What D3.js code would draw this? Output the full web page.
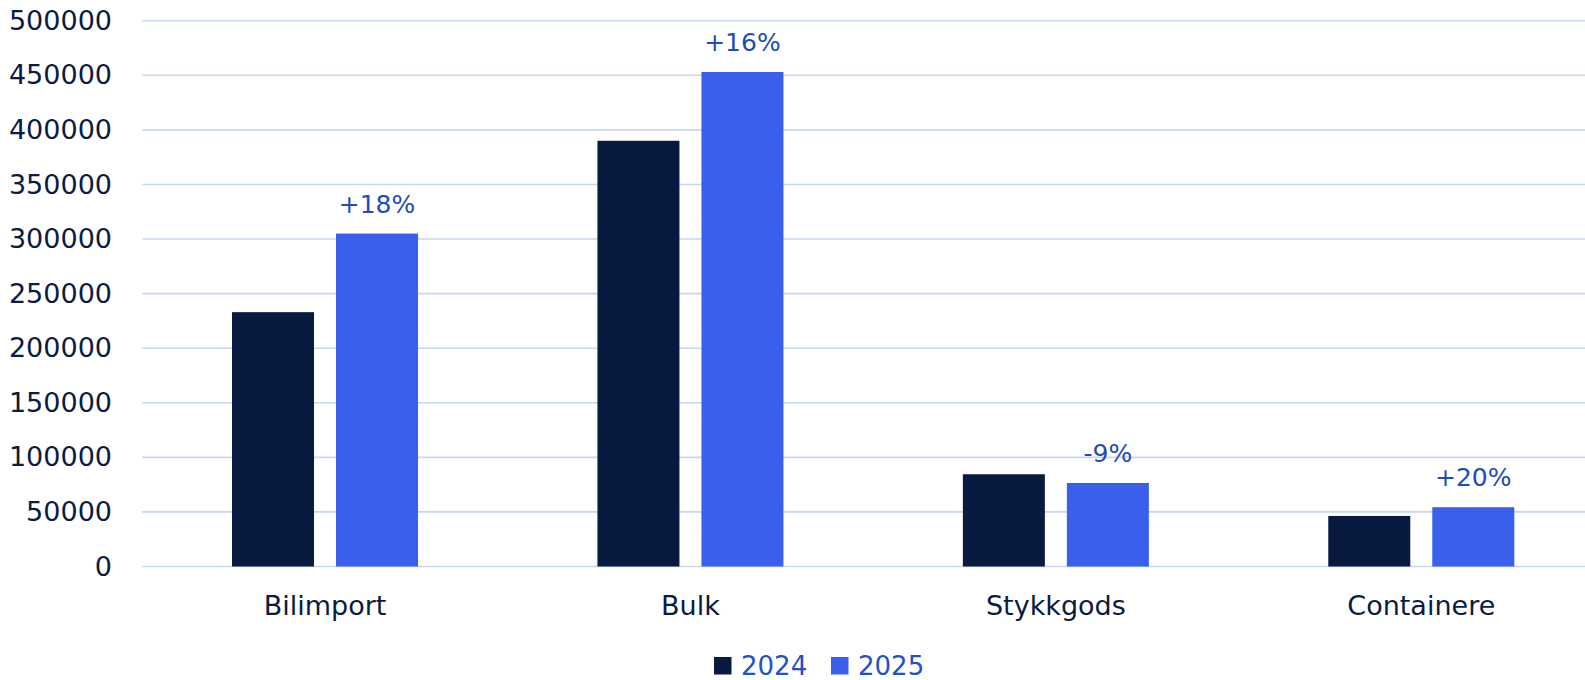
<!DOCTYPE html>
<html>
<head>
<meta charset="utf-8">
<script src="https://cdn.jsdelivr.net/npm/d3@7"></script>
<style>
  html, body { margin: 0; padding: 0; background: #ffffff; }
  svg { display: block; font-family: "DejaVu Sans", sans-serif; }
</style>
</head>
<body>
<svg id="chart" width="1585" height="680"></svg>
<script>
const categories = ["Bilimport", "Bulk", "Stykkgods", "Containere"];
const series = ["2024", "2025"];
const values2024 = [233000, 390000, 84500, 46300];
const values2025 = [305000, 453000, 76500, 54300];
const changeLabels = ["+18%", "+16%", "-9%", "+20%"];
const yTicks = [0, 50000, 100000, 150000, 200000, 250000, 300000, 350000, 400000, 450000, 500000];

const colors = { "2024": "#081a40", "2025": "#3a5fea" };
const W = 1585, H = 680;
const svg = d3.select("#chart");

const x0 = d3.scaleBand().domain(categories).range([142.3, 1604]).paddingInner(0.491).paddingOuter(0.2455);
const x1 = d3.scaleBand().domain(series).range([0, x0.bandwidth()]).paddingInner(0.2115).paddingOuter(0);
const y = d3.scaleLinear().domain([0, 500000]).range([566.5, 20.7]);

// gridlines
svg.append("g").selectAll("line").data(yTicks).join("line")
  .attr("x1", 142.3).attr("x2", W)
  .attr("y1", d => y(d)).attr("y2", d => y(d))
  .attr("stroke", "#c6d6f6").attr("stroke-width", 1.6);

// y axis labels
const yAxis = d3.axisLeft(y).tickValues(yTicks).tickFormat(d3.format("d")).tickSize(0).tickPadding(0);
const yg = svg.append("g").attr("transform", "translate(112,0)").call(yAxis);
yg.select(".domain").remove();
yg.selectAll("text").attr("font-size", 27).attr("fill", "#0b1b41").attr("font-family", "DejaVu Sans, sans-serif");

// bars
const rows = categories.map((c, i) => ({ cat: c, vals: [values2024[i], values2025[i]], label: changeLabels[i] }));
const groups = svg.append("g").selectAll("g").data(rows).join("g")
  .attr("transform", d => `translate(${x0(d.cat)},0)`);
groups.selectAll("rect").data(d => series.map((s, j) => ({ s, v: d.vals[j] }))).join("rect")
  .attr("x", d => x1(d.s)).attr("width", x1.bandwidth())
  .attr("y", d => y(d.v)).attr("height", d => y(0) - y(d.v))
  .attr("fill", d => colors[d.s]);

// change labels above 2025 bars
groups.append("text")
  .attr("x", x1("2025") + x1.bandwidth() / 2)
  .attr("y", d => y(d.vals[1]) - 21)
  .attr("text-anchor", "middle")
  .attr("font-size", 25)
  .attr("fill", "#1e4cb8")
  .text(d => d.label);

// x axis labels
const xAxis = d3.axisBottom(x0).tickSize(0).tickPadding(0);
const xg = svg.append("g").attr("transform", "translate(0,596)").call(xAxis);
xg.select(".domain").remove();
xg.selectAll("text").attr("font-size", 27).attr("fill", "#0b1b41").attr("font-family", "DejaVu Sans, sans-serif").attr("dy", "0.71em");

// legend
const legendX = [714, 831];
const lg = svg.append("g").selectAll("g").data(series).join("g")
  .attr("transform", (d, i) => `translate(${legendX[i]},657)`);
lg.append("rect").attr("width", 17.5).attr("height", 17.5).attr("fill", d => colors[d]);
lg.append("text").attr("x", 27).attr("y", 17.5).attr("font-size", 26).attr("fill", "#2152c6").text(d => d);
</script>
</body>
</html>
